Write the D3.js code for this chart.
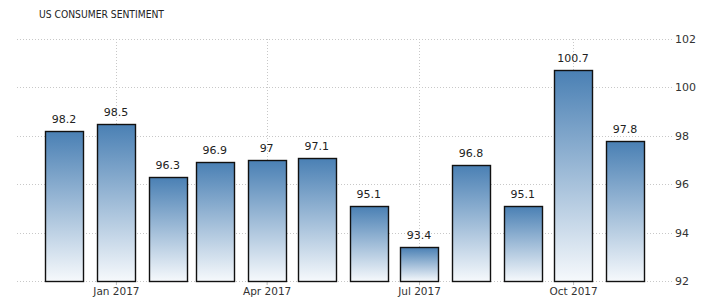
<!DOCTYPE html>
<html><head><meta charset="utf-8">
<script src="https://cdn.jsdelivr.net/npm/d3@7"></script>
<style>
html,body{margin:0;padding:0;background:#fff;}
svg text{font-family:"DejaVu Sans",Tahoma,sans-serif;}
</style></head>
<body>
<svg id="chart" width="714" height="307"></svg>
<script>
const months = ["2016-12-01","2017-01-01","2017-02-01","2017-03-01","2017-04-01","2017-05-01","2017-06-01","2017-07-01","2017-08-01","2017-09-01","2017-10-01","2017-11-01"];
const values = [98.2,98.5,96.3,96.9,97,97.1,95.1,93.4,96.8,95.1,100.7,97.8];
const valueLabels = ["98.2","98.5","96.3","96.9","97","97.1","95.1","93.4","96.8","95.1","100.7","97.8"];
const yTicks = [92,94,96,98,100,102];
const xTickDates = ["2017-01-01","2017-04-01","2017-07-01","2017-10-01"];
const xTickLabels = ["Jan 2017","Apr 2017","Jul 2017","Oct 2017"];
const title = "US CONSUMER SENTIMENT";

const svg = d3.select("#chart");
const parse = d3.utcParse("%Y-%m-%d");
const dates = months.map(parse);

const x = d3.scaleUtc().domain([dates[0], dates[dates.length-1]]).range([64, 625]);
const y = d3.scaleLinear().domain([92,102]).range([281, 39]);
const gridLeft = 17, gridRight = 672;
const barW = 38;

// gradient
const defs = svg.append("defs");
const grad = defs.append("linearGradient").attr("id","barGrad")
  .attr("x1",0).attr("y1",0).attr("x2",0).attr("y2",1);
grad.append("stop").attr("offset","0%").attr("stop-color","#4a80b4");
grad.append("stop").attr("offset","100%").attr("stop-color","#f6f9fc");

// title
svg.append("text").attr("x",39).attr("y",18).attr("font-size","10.5px").attr("fill","#222")
  .attr("textLength",125).attr("lengthAdjust","spacingAndGlyphs")
  .text(title);

// horizontal grid
svg.append("g").selectAll("line").data(yTicks).join("line")
  .attr("x1",gridLeft).attr("x2",gridRight)
  .attr("y1",d=>Math.round(y(d))+0.5).attr("y2",d=>Math.round(y(d))+0.5)
  .attr("stroke","#c8c8c8").attr("stroke-dasharray","1,2");

// vertical grid
const xTicks = xTickDates.map(parse);
svg.append("g").selectAll("line").data(xTicks).join("line")
  .attr("x1",d=>Math.round(x(d))+0.5).attr("x2",d=>Math.round(x(d))+0.5)
  .attr("y1",y(102)).attr("y2",y(92))
  .attr("stroke","#c8c8c8").attr("stroke-dasharray","1,2");

// right axis labels
const yAxis = d3.axisRight(y).tickValues(yTicks).tickSize(0).tickPadding(0);
const ya = svg.append("g").attr("transform",`translate(${gridRight+3},0)`).call(yAxis);
ya.select(".domain").remove();
ya.selectAll("text").attr("font-size","11px").attr("fill","#333").attr("font-family","DejaVu Sans");

// bottom axis
const xAxis = d3.axisBottom(x).tickValues(xTicks).tickFormat((d,i)=>xTickLabels[i]).tickSize(4).tickPadding(3);
const xa = svg.append("g").attr("transform",`translate(0,${y(92)})`).call(xAxis);
xa.select(".domain").remove();
xa.selectAll("line").attr("stroke","#bbb");
xa.selectAll("text").attr("font-size","10.5px").attr("fill","#333").attr("font-family","DejaVu Sans");

// bars
svg.append("g").selectAll("rect").data(values).join("rect")
  .attr("x",(d,i)=>Math.round(x(dates[i])-barW/2)+0.5)
  .attr("y",d=>Math.round(y(d))+0.5)
  .attr("width",barW)
  .attr("height",d=>Math.round(y(92))-Math.round(y(d)))
  .attr("fill","url(#barGrad)")
  .attr("stroke","#111").attr("stroke-width",1.4);

// value labels
svg.append("g").selectAll("text").data(values).join("text")
  .attr("x",(d,i)=>x(dates[i]))
  .attr("y",d=>y(d)-8)
  .attr("text-anchor","middle")
  .attr("font-size","11px").attr("fill","#222")
  .text((d,i)=>valueLabels[i]);
</script>
</body></html>
